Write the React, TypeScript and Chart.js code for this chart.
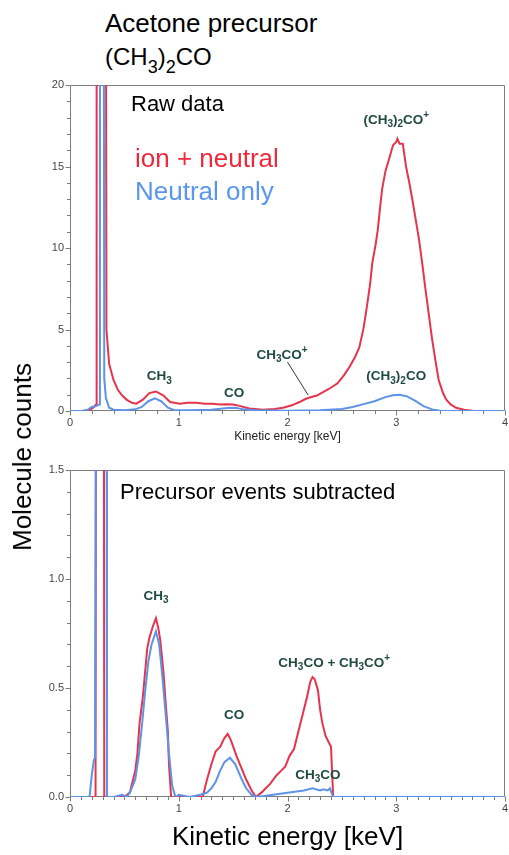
import React, { useEffect, useRef } from 'react';
import { Chart, registerables } from 'chart.js';

Chart.register(...registerables);

const FONT = '"Liberation Sans", Arial, Helvetica, sans-serif';
const RED = '#e5344c';
const BLUE = '#5d93e6';
const NOTE = '#1f4a40';
const AXIS = '#7d7d7d';

// ---------- tick labels ----------
const energyTicks = [0, 1, 2, 3, 4];
const rawCountTicks = [0, 5, 10, 15, 20];
const subCountTicks = [0, 0.5, 1.0, 1.5];

// ---------- Raw data: ion + neutral ----------
const rawIonE = [0, 0.1, 0.18, 0.22, 0.24, 0.245, 0.33, 0.335, 0.36, 0.4, 0.44, 0.48, 0.52, 0.57, 0.61, 0.67, 0.73, 0.79, 0.86, 0.92, 1.01, 1.08, 1.16, 1.24, 1.31, 1.38, 1.44, 1.5, 1.55, 1.65, 1.77, 1.88, 1.96, 2.04, 2.11, 2.17, 2.22, 2.27, 2.31, 2.38, 2.46, 2.52, 2.57, 2.62, 2.66, 2.7, 2.73, 2.76, 2.78, 2.81, 2.83, 2.85, 2.87, 2.9, 2.94, 2.97, 3.0, 3.01, 3.03, 3.06, 3.09, 3.12, 3.15, 3.18, 3.21, 3.24, 3.27, 3.3, 3.33, 3.36, 3.39, 3.43, 3.46, 3.5, 3.55, 3.62, 3.7, 3.8, 4.0];
const rawIonY = [0, 0, 0.05, 0.25, 0.4, 30, 30, 5, 2.9, 1.9, 1.3, 0.95, 0.7, 0.5, 0.45, 0.7, 1.1, 1.2, 0.95, 0.55, 0.45, 0.5, 0.5, 0.45, 0.45, 0.4, 0.42, 0.4, 0.33, 0.15, 0.08, 0.12, 0.2, 0.35, 0.55, 0.75, 0.86, 0.95, 1.1, 1.35, 1.7, 2.2, 2.7, 3.3, 3.9, 5.1, 6.4, 7.8, 9.1, 10.2, 11.1, 12.4, 13.6, 14.7, 15.6, 16.3, 16.5, 16.7, 16.4, 16.4, 15.0, 14.0, 12.9, 11.7, 10.5, 9.0, 7.4, 5.9, 4.4, 3.1, 1.9, 1.1, 0.7, 0.4, 0.2, 0.08, 0.02, 0, 0];

// ---------- Raw data: neutral only ----------
const rawNeuE = [0, 0.12, 0.17, 0.2, 0.24, 0.27, 0.275, 0.31, 0.315, 0.33, 0.36, 0.4, 0.5, 0.6, 0.66, 0.72, 0.78, 0.84, 0.9, 0.96, 1.1, 1.3, 1.45, 1.52, 1.6, 1.7, 2.0, 2.3, 2.5, 2.6, 2.7, 2.8, 2.9, 2.97, 3.03, 3.1, 3.18, 3.25, 3.33, 3.4, 3.5, 4.0];
const rawNeuY = [0, 0, 0.1, 0.25, 0.3, 0.4, 30, 30, 2, 0.8, 0.2, 0.08, 0.05, 0.1, 0.25, 0.6, 0.78, 0.6, 0.2, 0.05, 0.05, 0.08, 0.18, 0.2, 0.1, 0.04, 0.02, 0.05, 0.12, 0.25, 0.42, 0.6, 0.85, 0.97, 1.0, 0.9, 0.6, 0.3, 0.1, 0.02, 0, 0];

// ---------- Precursor events subtracted: ion + neutral ----------
const subIonE = [0, 0.2, 0.235, 0.24, 0.31, 0.315, 0.4, 0.5, 0.55, 0.58, 0.6, 0.62, 0.64, 0.67, 0.69, 0.71, 0.73, 0.76, 0.79, 0.81, 0.83, 0.86, 0.88, 0.9, 0.91, 0.93, 1.0, 1.22, 1.26, 1.3, 1.34, 1.38, 1.42, 1.45, 1.48, 1.53, 1.57, 1.62, 1.67, 1.71, 1.76, 1.8, 1.84, 1.9, 1.94, 1.98, 2.02, 2.06, 2.1, 2.14, 2.18, 2.21, 2.23, 2.25, 2.28, 2.3, 2.32, 2.35, 2.38, 2.4, 2.42, 2.6, 4.0];
const subIonY = [0, 0, 0, 3, 3, 0, 0, 0, 0.02, 0.08, 0.12, 0.2, 0.34, 0.46, 0.57, 0.68, 0.73, 0.78, 0.82, 0.78, 0.72, 0.57, 0.43, 0.3, 0.15, 0, 0, 0, 0.08, 0.15, 0.21, 0.23, 0.27, 0.29, 0.26, 0.19, 0.14, 0.08, 0.03, 0, 0.02, 0.04, 0.06, 0.1, 0.12, 0.14, 0.19, 0.22, 0.3, 0.38, 0.46, 0.53, 0.55, 0.54, 0.49, 0.4, 0.34, 0.28, 0.25, 0.23, 0, 0, 0];

// ---------- Precursor events subtracted: neutral only ----------
const subNeuE = [0, 0.18, 0.2, 0.22, 0.23, 0.245, 0.335, 0.34, 0.4, 0.48, 0.52, 0.55, 0.6, 0.63, 0.66, 0.69, 0.72, 0.75, 0.79, 0.82, 0.85, 0.88, 0.91, 0.94, 0.97, 1.0, 1.1, 1.2, 1.26, 1.3, 1.34, 1.38, 1.42, 1.47, 1.52, 1.58, 1.62, 1.67, 1.72, 2.0, 2.15, 2.23, 2.3, 2.33, 2.37, 2.39, 2.42, 2.6, 4.0];
const subNeuY = [0, 0, 0.1, 0.17, 0.18, 3, 3, 0, 0, 0.01, 0, 0.02, 0.08, 0.18, 0.32, 0.48, 0.62, 0.7, 0.76, 0.7, 0.55, 0.38, 0.2, 0.05, 0, 0.01, 0, 0.01, 0.02, 0.04, 0.07, 0.12, 0.16, 0.18, 0.15, 0.08, 0.04, 0.01, 0, 0.02, 0.03, 0.04, 0.03, 0.035, 0.03, 0.04, 0, 0, 0];

// ---------- peak labels (segments: text, kind) ----------
type Seg = [string, string?];
const rawNotes: { segs: Seg[]; x: number; y: number }[] = [
  { segs: [['CH'], ['3', 'sub']], x: 0.82, y: 2.1 },
  { segs: [['CO']], x: 1.51, y: 1.1 },
  { segs: [['CH'], ['3', 'sub'], ['CO'], ['+', 'sup']], x: 1.95, y: 3.4 },
  { segs: [['(CH'], ['3', 'sub'], [')'], ['2', 'sub'], ['CO'], ['+', 'sup']], x: 3.0, y: 17.85 },
  { segs: [['(CH'], ['3', 'sub'], [')'], ['2', 'sub'], ['CO']], x: 3.0, y: 2.1 },
];
const rawLeaders = [{ x1: 2.0, y1: 3.0, x2: 2.19, y2: 0.98 }];
const subNotes: { segs: Seg[]; x: number; y: number }[] = [
  { segs: [['CH'], ['3', 'sub']], x: 0.79, y: 0.92 },
  { segs: [['CO']], x: 1.51, y: 0.376 },
  { segs: [['CH'], ['3', 'sub'], ['CO + CH'], ['3', 'sub'], ['CO'], ['+', 'sup']], x: 2.43, y: 0.615 },
  { segs: [['CH'], ['3', 'sub'], ['CO']], x: 2.28, y: 0.1 },
];

const framePlugin = {
  id: 'frame',
  beforeDatasetsDraw(chart: any, _a: any, opts: any) {
    const { ctx, chartArea: a, scales } = chart;
    const xs = scales.x;
    const ys = scales.y;
    const L = Math.round(a.left) + 0.5;
    const R = Math.round(a.right) - 0.5;
    const T = Math.round(a.top) + 0.5;
    const B = Math.round(a.bottom) - 0.5;
    ctx.save();
    ctx.strokeStyle = AXIS;
    ctx.lineWidth = 1;
    ctx.beginPath();
    ctx.moveTo(L, T); ctx.lineTo(R, T); ctx.lineTo(R, B); ctx.lineTo(L, B); ctx.closePath();
    const isMajor = (v: number, m: number) => Math.abs(v / m - Math.round(v / m)) < 1e-6;
    const nx = Math.round((xs.max - xs.min) / opts.xMinor);
    for (let i = 0; i <= nx; i++) {
      const v = xs.min + i * opts.xMinor;
      const px = Math.round(xs.getPixelForValue(v)) + 0.5;
      ctx.moveTo(px, B);
      ctx.lineTo(px, B + (isMajor(v, opts.xMajor) ? 5 : 3.5));
    }
    const ny = Math.round((ys.max - ys.min) / opts.yMinor);
    for (let i = 0; i <= ny; i++) {
      const v = ys.min + i * opts.yMinor;
      const py = Math.round(ys.getPixelForValue(v)) + 0.5;
      ctx.moveTo(L, py);
      ctx.lineTo(L - (isMajor(v, opts.yMajor) ? 5 : 3.5), py);
    }
    ctx.stroke();
    ctx.restore();
  },
};

const notesPlugin = {
  id: 'notes',
  afterDatasetsDraw(chart: any, _a: any, opts: any) {
    const { ctx, scales } = chart;
    const xs = scales.x;
    const ys = scales.y;
    const big = `bold 13.5px ${FONT}`;
    const small = `bold 10px ${FONT}`;
    ctx.save();
    ctx.fillStyle = NOTE;
    ctx.textBaseline = 'middle';
    ctx.textAlign = 'left';
    (opts.items || []).forEach((n: any) => {
      let w = 0;
      n.segs.forEach((s: Seg) => {
        ctx.font = s[1] ? small : big;
        w += ctx.measureText(s[0]).width;
      });
      let x = xs.getPixelForValue(n.x) - w / 2;
      const y = ys.getPixelForValue(n.y);
      n.segs.forEach((s: Seg) => {
        ctx.font = s[1] ? small : big;
        const dy = s[1] === 'sub' ? 4 : s[1] === 'sup' ? -5 : 0;
        ctx.fillText(s[0], x, y + dy);
        x += ctx.measureText(s[0]).width;
      });
    });
    ctx.strokeStyle = '#333';
    ctx.lineWidth = 1;
    (opts.leaders || []).forEach((l: any) => {
      ctx.beginPath();
      ctx.moveTo(xs.getPixelForValue(l.x1), ys.getPixelForValue(l.y1));
      ctx.lineTo(xs.getPixelForValue(l.x2), ys.getPixelForValue(l.y2));
      ctx.stroke();
    });
    ctx.restore();
  },
};

function toPoints(xs: number[], ys: number[]) {
  return xs.map((x, i) => ({ x, y: ys[i] }));
}

function makeConfig(p: any): any {
  return {
    type: 'line',
    data: {
      datasets: [
        { label: 'Neutral only', data: toPoints(p.neuE, p.neuY), borderColor: BLUE, borderWidth: 2, pointRadius: 0, tension: 0, fill: false },
        { label: 'ion + neutral', data: toPoints(p.ionE, p.ionY), borderColor: RED, borderWidth: 2, pointRadius: 0, tension: 0, fill: false },
      ],
    },
    options: {
      animation: false,
      responsive: false,
      maintainAspectRatio: false,
      layout: { padding: { left: 0, right: 4, top: 10, bottom: 0 } },
      plugins: {
        legend: { display: false },
        tooltip: { enabled: false },
        frame: { xMinor: p.xMinor, xMajor: 1, yMinor: p.yMinor, yMajor: p.yMajor },
        notes: { items: p.notes, leaders: p.leaders },
      },
      scales: {
        x: {
          type: 'linear',
          min: 0,
          max: 4,
          afterBuildTicks: (s: any) => { s.ticks = energyTicks.map((v) => ({ value: v })); },
          afterFit: (s: any) => { s.height = p.xHeight; s.paddingLeft = 0; s.paddingRight = 0; },
          ticks: { font: { family: FONT, size: 11 }, color: '#444', padding: 5, maxRotation: 0, autoSkip: false, callback: (v: any) => String(v) },
          grid: { display: false, drawTicks: false },
          border: { display: false },
          title: { display: true, text: 'Kinetic energy [keV]', font: { family: FONT, size: p.titleSize }, color: p.titleColor, padding: { top: 0, bottom: p.titlePad } },
        },
        y: {
          type: 'linear',
          min: 0,
          max: p.yMax,
          afterBuildTicks: (s: any) => { s.ticks = p.yTicks.map((v: number) => ({ value: v })); },
          afterFit: (s: any) => { s.width = 70; s.paddingTop = 0; s.paddingBottom = 0; },
          ticks: { font: { family: FONT, size: 11 }, color: '#444', padding: 6, autoSkip: false, callback: p.yFmt },
          grid: { display: false, drawTicks: false },
          border: { display: false },
        },
      },
    },
    plugins: [framePlugin, notesPlugin],
  };
}

function Panel({ cfg, top, height }: { cfg: any; top: number; height: number }) {
  const ref = useRef<HTMLCanvasElement>(null);
  useEffect(() => {
    const chart = new Chart(ref.current as HTMLCanvasElement, cfg);
    return () => chart.destroy();
  }, []);
  return (
    <canvas
      ref={ref}
      width={509}
      height={height}
      style={{ position: 'absolute', left: 0, top, width: 509, height }}
    />
  );
}

const rawCfg = makeConfig({
  ionE: rawIonE, ionY: rawIonY, neuE: rawNeuE, neuY: rawNeuY,
  yMax: 20, yTicks: rawCountTicks, yFmt: (v: any) => String(v),
  xMinor: 0.2, yMinor: 1, yMajor: 5,
  notes: rawNotes, leaders: rawLeaders,
  xHeight: 34, titleSize: 12, titleColor: '#222', titlePad: 1,
});

const subCfg = makeConfig({
  ionE: subIonE, ionY: subIonY, neuE: subNeuE, neuY: subNeuY,
  yMax: 1.5, yTicks: subCountTicks, yFmt: (v: any) => Number(v).toFixed(1),
  xMinor: 0.1, yMinor: 0.1, yMajor: 0.5,
  notes: subNotes, leaders: [],
  xHeight: 58, titleSize: 26, titleColor: '#000', titlePad: 2,
});

const txt = (fs: number, extra: any = {}) => ({
  position: 'absolute' as const,
  fontFamily: FONT,
  fontSize: fs,
  lineHeight: 1,
  whiteSpace: 'nowrap' as const,
  color: '#000',
  ...extra,
});

export default function App() {
  return (
    <div style={{ position: 'absolute', left: 0, top: 0, width: 509, height: 855, background: '#fff', overflow: 'hidden' }}>
      <div style={txt(26, { left: 105, top: 10 })}>Acetone precursor</div>
      <div style={txt(24, { left: 105, top: 45 })}>
        (CH<span style={{ fontSize: 18, position: 'relative', top: 8 }}>3</span>)<span style={{ fontSize: 18, position: 'relative', top: 8 }}>2</span>CO
      </div>
      <Panel cfg={rawCfg} top={75} height={370} />
      <Panel cfg={subCfg} top={460} height={395} />
      <div style={txt(22, { left: 131, top: 93 })}>Raw data</div>
      <div style={txt(26, { left: 135, top: 145, color: '#f0283c' })}>ion + neutral</div>
      <div style={txt(26, { left: 135, top: 178, color: '#5a96f0' })}>Neutral only</div>
      <div style={txt(22, { left: 120, top: 481 })}>Precursor events subtracted</div>
      <div style={txt(26, { left: 22, top: 457, transform: 'translate(-50%, -50%) rotate(-90deg)' })}>Molecule counts</div>
    </div>
  );
}
